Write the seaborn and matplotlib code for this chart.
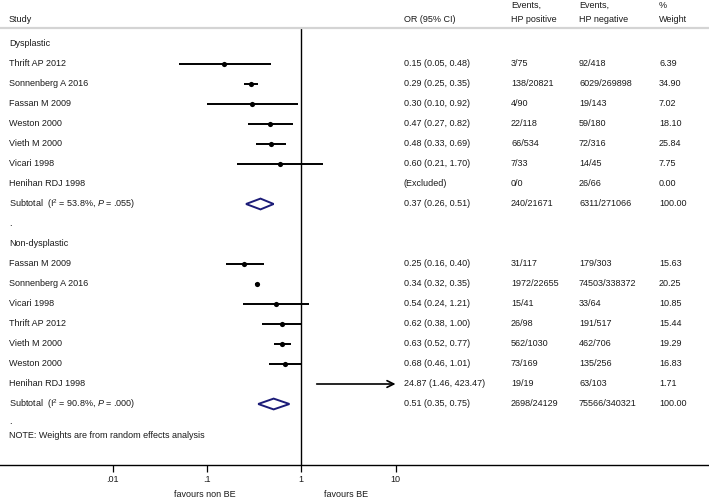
import numpy as np
import pandas as pd
import matplotlib
matplotlib.use("Agg")
import matplotlib.pyplot as plt
from matplotlib.patches import Polygon
import seaborn as sns

# ----------------------
# Data
# ----------------------
dys_study = ["Thrift AP 2012", "Sonnenberg A 2016", "Fassan M 2009", "Weston 2000",
             "Vieth M 2000", "Vicari 1998", "Henihan RDJ 1998"]
dys_or = [0.15, 0.29, 0.30, 0.47, 0.48, 0.60, np.nan]
dys_lo = [0.05, 0.25, 0.10, 0.27, 0.33, 0.21, np.nan]
dys_hi = [0.48, 0.35, 0.92, 0.82, 0.69, 1.70, np.nan]
dys_pos = ["3/75", "138/20821", "4/90", "22/118", "66/534", "7/33", "0/0"]
dys_neg = ["92/418", "6029/269898", "19/143", "59/180", "72/316", "14/45", "26/66"]
dys_wt = [6.39, 34.90, 7.02, 18.10, 25.84, 7.75, 0.00]
dys_sub = (0.37, 0.26, 0.51)
dys_sub_pos, dys_sub_neg = "240/21671", "6311/271066"
dys_i2, dys_p = "53.8%", ".055"

nd_study = ["Fassan M 2009", "Sonnenberg A 2016", "Vicari 1998", "Thrift AP 2012",
            "Vieth M 2000", "Weston 2000", "Henihan RDJ 1998"]
nd_or = [0.25, 0.34, 0.54, 0.62, 0.63, 0.68, 24.87]
nd_lo = [0.16, 0.32, 0.24, 0.38, 0.52, 0.46, 1.46]
nd_hi = [0.40, 0.35, 1.21, 1.00, 0.77, 1.01, 423.47]
nd_pos = ["31/117", "1972/22655", "15/41", "26/98", "562/1030", "73/169", "19/19"]
nd_neg = ["179/303", "74503/338372", "33/64", "191/517", "462/706", "135/256", "63/103"]
nd_wt = [15.63, 20.25, 10.85, 15.44, 19.29, 16.83, 1.71]
nd_sub = (0.51, 0.35, 0.75)
nd_sub_pos, nd_sub_neg = "2698/24129", "75566/340321"
nd_i2, nd_p = "90.8%", ".000"

tick_vals = [0.01, 0.1, 1, 10]
tick_labels = [".01", ".1", "1", "10"]
x_max = 10  # CIs are clipped here (arrow beyond)

# ----------------------
# Style
# ----------------------
sns.set_style("white")
plt.rcParams["font.family"] = ["Liberation Sans", "DejaVu Sans"]
plt.rcParams["mathtext.fontset"] = "custom"
plt.rcParams["mathtext.rm"] = "Liberation Sans"
plt.rcParams["mathtext.it"] = "Liberation Sans:italic"
FS = 6.5
TXT = "#1a1a1a"
NAVY = "#1c1c78"
W = 709.0

fig = plt.figure(figsize=(7.09, 5.0), dpi=100)
ax = fig.add_axes([0, 35 / 500, 1, 437 / 500])
ax.set_xscale("log")
ax.set_xlim(10 ** -3.194, 10 ** 4.324)
ax.set_ylim(21.05, -0.8)

# table of study rows
rows = []
for i, s in enumerate(dys_study):
    rows.append(dict(study=s, row=1 + i, or_=dys_or[i], lo=dys_lo[i], hi=dys_hi[i],
                     pos=dys_pos[i], neg=dys_neg[i], wt=dys_wt[i]))
for i, s in enumerate(nd_study):
    rows.append(dict(study=s, row=11 + i, or_=nd_or[i], lo=nd_lo[i], hi=nd_hi[i],
                     pos=nd_pos[i], neg=nd_neg[i], wt=nd_wt[i]))
df = pd.DataFrame(rows)

est = df.dropna(subset=["or_"])
inside = est[est["hi"] <= x_max]
outside = est[est["hi"] > x_max]

# confidence intervals
ax.hlines(inside["row"], inside["lo"], inside["hi"], color="black", lw=1.4, zorder=2)
for _, r in outside.iterrows():
    ax.annotate("", xy=(x_max, r["row"]), xytext=(r["lo"], r["row"]),
                arrowprops=dict(arrowstyle="->", color="black", lw=1.2,
                                mutation_scale=12, shrinkA=0, shrinkB=0))

# point estimates
sns.scatterplot(data=inside, x="or_", y="row", color="black", s=14,
                edgecolor="black", linewidth=0, ax=ax, legend=False, zorder=3)

# subtotal diamonds
for (o, lo, hi), r in [(dys_sub, 8), (nd_sub, 18)]:
    ax.add_patch(Polygon([(lo, r), (o, r - 0.27), (hi, r), (o, r + 0.27)],
                         closed=True, facecolor="white", edgecolor=NAVY, lw=1.4, zorder=3))

ax.axvline(1, color="black", lw=1.0, zorder=1)

# axes
ax.set_xlabel("")
ax.set_ylabel("")
ax.set_yticks([])
ax.set_xticks(tick_vals)
ax.set_xticklabels(tick_labels)
ax.xaxis.set_minor_locator(matplotlib.ticker.NullLocator())
ax.tick_params(axis="x", direction="out", length=5, width=0.9, pad=2,
               labelsize=FS, colors="black", labelcolor=TXT, bottom=True)
for side in ["left", "right"]:
    ax.spines[side].set_visible(False)
ax.spines["bottom"].set_color("black")
ax.spines["bottom"].set_linewidth(1.0)
ax.spines["top"].set_color("#d4d4d4")
ax.spines["top"].set_linewidth(1.6)

# ----------------------
# Text columns
# ----------------------
tr = ax.get_yaxis_transform()
col_study, col_or, col_pos, col_neg, col_wt = 9 / W, 404 / W, 511 / W, 579 / W, 659 / W


def put(x, y, s, **kw):
    ax.text(x, y, s, transform=tr, fontsize=FS, color=TXT, va="center",
            ha="left", clip_on=False, **kw)


put(col_study, -1.25, "Study")
put(col_or, -1.25, "OR (95% CI)")
put(col_pos, -1.95, "Events,")
put(col_pos, -1.25, "HP positive")
put(col_neg, -1.95, "Events,")
put(col_neg, -1.25, "HP negative")
put(col_wt, -1.95, "%")
put(col_wt, -1.25, "Weight")

put(col_study, 0, "Dysplastic")
put(col_study, 10, "Non-dysplastic")
for _, r in df.iterrows():
    put(col_study, r["row"], r["study"])
    if np.isnan(r["or_"]):
        put(col_or, r["row"], "(Excluded)")
    else:
        put(col_or, r["row"], f"{r['or_']:.2f} ({r['lo']:.2f}, {r['hi']:.2f})")
    put(col_pos, r["row"], r["pos"])
    put(col_neg, r["row"], r["neg"])
    put(col_wt, r["row"], f"{r['wt']:.2f}")

for (o, lo, hi), r, i2, p, pos, neg in [(dys_sub, 8, dys_i2, dys_p, dys_sub_pos, dys_sub_neg),
                                        (nd_sub, 18, nd_i2, nd_p, nd_sub_pos, nd_sub_neg)]:
    put(col_study, r, rf"Subtotal  (I$^2$ = {i2.replace('%', r'%')}, $\mathit{{P}}$ = {p})")
    put(col_or, r, f"{o:.2f} ({lo:.2f}, {hi:.2f})")
    put(col_pos, r, pos)
    put(col_neg, r, neg)
    put(col_wt, r, "100.00")

put(col_study, 9, ".")
put(col_study, 18.9, ".")
put(col_study, 19.6, "NOTE: Weights are from random effects analysis")

xtr = ax.get_xaxis_transform()
ax.text(204.5 / W, -0.0686, "favours non BE", transform=ax.transAxes, fontsize=FS,
        color=TXT, ha="center", va="center", clip_on=False)
ax.text(346.5 / W, -0.0686, "favours BE", transform=ax.transAxes, fontsize=FS,
        color=TXT, ha="center", va="center", clip_on=False)

fig.savefig("out.png", dpi=100, facecolor="white")
